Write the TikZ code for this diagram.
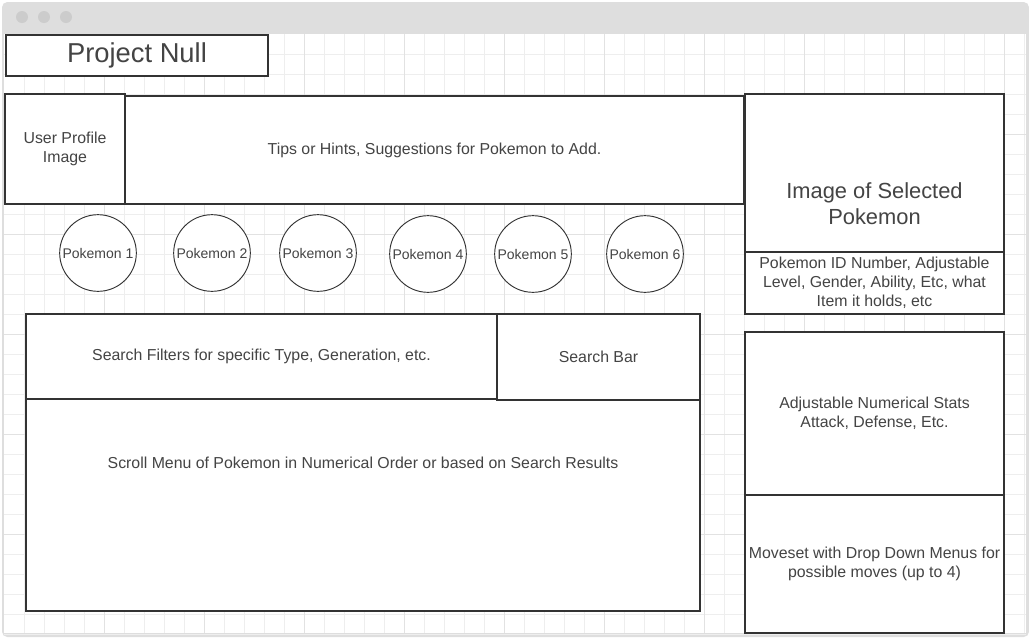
\documentclass[tikz,border=0pt]{standalone}
\usepackage{fontspec}
\setmainfont{Liberation Sans}
\usepackage{tikz}
\usepackage{xcolor}
\definecolor{framegray}{RGB}{222,222,222}
\definecolor{dotgray}{RGB}{204,204,204}
\definecolor{gridminor}{RGB}{238,238,238}
\definecolor{gridmajor}{RGB}{226,226,226}
\definecolor{inkgray}{RGB}{51,51,51}
\definecolor{textgray}{RGB}{68,68,68}
\tikzset{
  panel/.style={draw=inkgray, line width=0.8pt, fill=white, inner sep=0pt,
    text=textgray, align=center, font=\fontsize{11.9}{14.25}\selectfont},
  pokeslot/.style={draw=inkgray, line width=0.7pt, fill=white, circle, inner sep=0pt,
    minimum size=57.5pt, text=textgray, font=\fontsize{10.5}{12}\selectfont},
  gridline/.style={gridminor, line width=0.75pt},
  gridbold/.style={gridmajor, line width=0.75pt}
}

\begin{document}
\begin{tikzpicture}[x=0.75pt, y=-0.75pt]
                \useasboundingbox (0,0) rectangle (1029,637);
                
                % Window
                \fill[framegray, rounded corners=4pt] (2,2) rectangle (1029,637);
                \fill[white] (4,34) rectangle (1026,633);
                \foreach \dx in {22,44,66}
                    \fill[dotgray] (\dx,17) circle (4.5pt);
                
                % Grid
                \foreach \gx in {24.7,44.7,...,1024.7}
                    \draw[gridline] (\gx,34) -- (\gx,633);
                \foreach \gy in {54,74,...,634}
                    \draw[gridline] (4,\gy) -- (1026,\gy);
                \foreach \gx in {104.7,204.7,...,1004.7}
                    \draw[gridbold] (\gx,34) -- (\gx,633);
                \foreach \gy in {134,234,...,534}
                    \draw[gridbold] (4,\gy) -- (1026,\gy);
                
                % Title
                \node[panel, minimum width=196.5pt, minimum height=30.75pt,
                      font=\fontsize{20.5}{24}\selectfont] (title) at (137,55.5) {Project Null};
                
                % Header
                \node[panel, minimum width=90pt, minimum height=82.5pt] (profile) at (65,149) {User Profile\\Image};
                \node[panel, minimum width=464.25pt, minimum height=81pt] (tips) at (434.5,150) {Tips or Hints, Suggestions for Pokemon to Add.};
                
                % Selected pokemon
                \node[panel, minimum width=194.25pt, minimum height=165pt,
                      font=\fontsize{16.4}{19.5}\selectfont] (selimg) at (874.5,204) {Image of Selected\\Pokemon};
                \node[panel, minimum width=194.25pt, minimum height=46.5pt] (pkinfo) at (874.5,283) {Pokemon ID Number, Adjustable\\Level, Gender, Ability, Etc, what\\Item it holds, etc};
                
                % Team slots
                \foreach \n/\px/\py in {1/98/253, 2/212/253, 3/318/253, 4/428/254, 5/533/254, 6/645/254}
                    \node[pokeslot] (pk\n) at (\px,\py) {Pokemon \n};
                
                % Search area
                \node[panel, minimum width=505.5pt, minimum height=222.75pt] (scroll) at (363,462.5) {Scroll Menu of Pokemon in Numerical Order or based on Search Results};
                \node[panel, minimum width=353.25pt, minimum height=63.75pt] (filters) at (261.5,356.5) {Search Filters for specific Type, Generation, etc.};
                \node[panel, minimum width=152.25pt, minimum height=64.5pt] (searchbar) at (598.5,357) {Search Bar};
                
                % Stats and moves
                \node[panel, minimum width=194.25pt, minimum height=122.25pt] (stats) at (874.5,413.5) {Adjustable Numerical Stats\\Attack, Defense, Etc.};
                \node[panel, minimum width=194.25pt, minimum height=103.5pt] (moveset) at (874.5,564) {Moveset with Drop Down Menus for\\possible moves (up to 4)};
            \end{tikzpicture}
\end{document}
